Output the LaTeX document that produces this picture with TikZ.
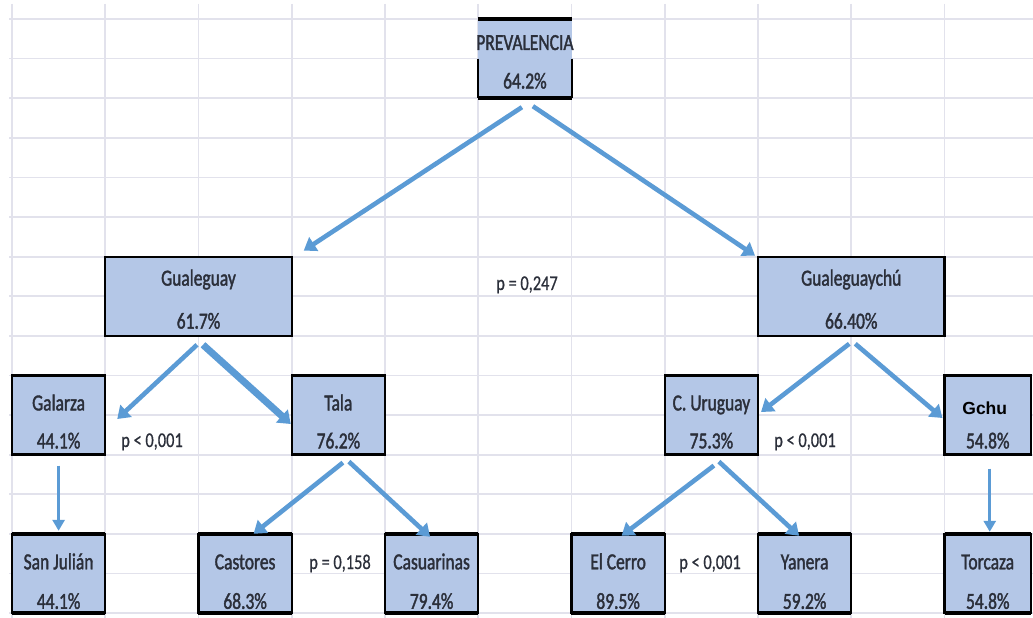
\documentclass[tikz,border=0pt]{standalone}
\usepackage{fontspec}
\setmainfont{Carlito}
\newfontfamily\condfont[FakeStretch=0.76,FakeBold=1.6]{Carlito}
\newfontfamily\pfont[FakeStretch=0.78,FakeBold=0.6]{Carlito}
\newfontfamily\gchufont{Liberation Sans}
\usetikzlibrary{calc,arrows.meta}
\definecolor{boxfill}{HTML}{B4C7E7}
\definecolor{arrblue}{HTML}{5B9BD5}
\definecolor{gridc}{HTML}{E2E2EC}
\definecolor{txt}{HTML}{2B2F3A}
\newcommand\tbedges[1]{\draw[line width=3.4pt] (#1.north west) -- (#1.north east) (#1.south west) -- (#1.south east);}
\begin{document}
\begin{tikzpicture}[x=1pt,y=-1pt,
  cell/.style={draw=black, line width=2.2pt, fill=boxfill, inner sep=0pt, outer sep=0pt, minimum height=79.2pt},
  single/.style={cell, minimum width=93.25pt},
  double/.style={cell, minimum width=186.5pt},
  lbl/.style={font=\condfont\fontsize{23}{23}\selectfont, text=txt, anchor=base, inner sep=0pt},
  pval/.style={font=\pfont\fontsize{21}{21}\selectfont, text=txt, anchor=base, inner sep=0pt},
  arr/.style={draw=arrblue, line width=4.6pt, -{Triangle[width=16pt,length=12pt]}},
  arrthick/.style={arr, line width=7pt, -{Triangle[width=17pt,length=12pt]}},
  arrthin/.style={arr, line width=3pt, -{Triangle[width=12pt,length=11pt]}},
  gridline/.style={draw=gridc, line width=1.8pt}]
\useasboundingbox (0,0) rectangle (1033,618);
\fill[white] (0,0) rectangle (1033,618);
% spreadsheet grid
\foreach \k in {0,...,11} \draw[gridline] ({12+93.25*\k},4) -- ({12+93.25*\k},618);
\foreach \k in {0,...,15} \draw[gridline] (9,{19+39.6*\k}) -- (1033,{19+39.6*\k});

% level 0
\node[single, draw=none] (prev) at (524.9,58.6) {};
\draw[line width=3.6pt] (prev.north west) -- (prev.north east) (prev.south west) -- (prev.south east);
\draw[line width=2pt] (prev.west) -- (prev.south west) (prev.east) -- (prev.south east);
\node[lbl] (prev1) at ($(prev.north)+(0,31)$) {PREVALENCIA};
\node[lbl] (prev2) at ($(prev.north)+(0,69.5)$) {64.2\%};

% level 1
\node[double] (gual) at (198.5,296.2) {};
\node[lbl] (gual1) at ($(gual.north)+(0,29)$) {Gualeguay};
\node[lbl] (gual2) at ($(gual.north)+(0,72)$) {61.7\%};
\node[double] (gchy) at (851.25,296.2) {};
\node[lbl] (gchy1) at ($(gchy.north)+(0,29)$) {Gualeguaychú};
\node[lbl] (gchy2) at ($(gchy.north)+(0,72)$) {66.40\%};

% level 2
\node[single] (gal) at (58.6,415) {}; \tbedges{gal}
\node[lbl] (gal1) at ($(gal.north)+(0,35)$) {Galarza};
\node[lbl] (gal2) at ($(gal.north)+(0,73)$) {44.1\%};
\node[single] (tala) at (338.4,415) {}; \tbedges{tala}
\node[lbl] (tala1) at ($(tala.north)+(0,35)$) {Tala};
\node[lbl] (tala2) at ($(tala.north)+(0,73)$) {76.2\%};
\node[single] (cur) at (711.4,415) {}; \tbedges{cur}
\node[lbl] (cur1) at ($(cur.north)+(0,35)$) {C. Uruguay};
\node[lbl] (cur2) at ($(cur.north)+(0,73)$) {75.3\%};
\node[cell, minimum width=86.5pt] (gchu) at (987.75,415) {}; \tbedges{gchu}
\node[anchor=base, inner sep=0pt, font=\gchufont\bfseries\fontsize{17.5}{17.5}\selectfont, text=black] (gchu1) at ($(gchu.north)+(-3,39)$) {Gchu};
\node[lbl] (gchu2) at ($(gchu.north)+(0,73)$) {54.8\%};

% level 3
\node[single] (sj) at (58.6,573.4) {}; \tbedges{sj}
\node[lbl] (sj1) at ($(sj.north)+(0,35.5)$) {San Julián};
\node[lbl] (sj2) at ($(sj.north)+(0,75)$) {44.1\%};
\node[single] (cas) at (245.1,573.4) {}; \tbedges{cas}
\node[lbl] (cas1) at ($(cas.north)+(0,35.5)$) {Castores};
\node[lbl] (cas2) at ($(cas.north)+(0,75)$) {68.3\%};
\node[single] (csn) at (431.6,573.4) {}; \tbedges{csn}
\node[lbl] (csn1) at ($(csn.north)+(0,35.5)$) {Casuarinas};
\node[lbl] (csn2) at ($(csn.north)+(0,75)$) {79.4\%};
\node[single] (elc) at (618.1,573.4) {}; \tbedges{elc}
\node[lbl] (elc1) at ($(elc.north)+(0,35.5)$) {El Cerro};
\node[lbl] (elc2) at ($(elc.north)+(0,75)$) {89.5\%};
\node[single] (yan) at (804.6,573.4) {}; \tbedges{yan}
\node[lbl] (yan1) at ($(yan.north)+(0,35.5)$) {Yanera};
\node[lbl] (yan2) at ($(yan.north)+(0,75)$) {59.2\%};
\node[cell, minimum width=86.5pt] (tor) at (987.75,573.4) {}; \tbedges{tor}
\node[lbl] (tor1) at ($(tor.north)+(0,35.5)$) {Torcaza};
\node[lbl] (tor2) at ($(tor.north)+(0,75)$) {54.8\%};

% p-values
\node[pval] (p0) at (527,290) {p = 0,247};
\node[pval] (p1) at (152,447) {p < 0,001};
\node[pval] (p2) at (805,447) {p < 0,001};
\node[pval] (p3) at (340,569) {p = 0,158};
\node[pval] (p4) at (710,569) {p < 0,001};

% connectors
\draw[arr] ($(prev.south)+(-3,9)$) -- ($(gual.north east)+(12,-6)$);
\draw[arr] ($(prev.south)+(8,8)$) -- ($(gchy.north west)+(-3,-1)$);
\draw[arr] ($(gual.south)+(-1.5,9)$) -- ($(gal.east)+(12,4)$);
\draw[arrthick] ($(gual.south)+(4.5,9)$) -- ($(tala.west)+(-1,9)$);
\draw[arr] ($(gchy.south)+(-2,8)$) -- ($(cur.east)+(3,-3)$);
\draw[arr] ($(gchy.south)+(4,8)$) -- ($(gchu.west)+(-2,3)$);
\draw[arrthin] ($(gal.south)+(0,11)$) -- ($(sj.north)+(0,-3)$);
\draw[arr] ($(tala.south)+(4.5,8)$) -- ($(cas.north)+(8.5,0)$);
\draw[arr] ($(tala.south)+(10.5,7)$) -- ($(csn.north)+(-1.5,3)$);
\draw[arr] ($(cur.south)+(2.5,11)$) -- ($(elc.north)+(3.5,2)$);
\draw[arr] ($(cur.south)+(7.5,7)$) -- ($(yan.north)+(-5.5,2)$);
\draw[arrthin] ($(gchu.south)+(2,14)$) -- ($(tor.north)+(2,-2)$);
\end{tikzpicture}
\end{document}
